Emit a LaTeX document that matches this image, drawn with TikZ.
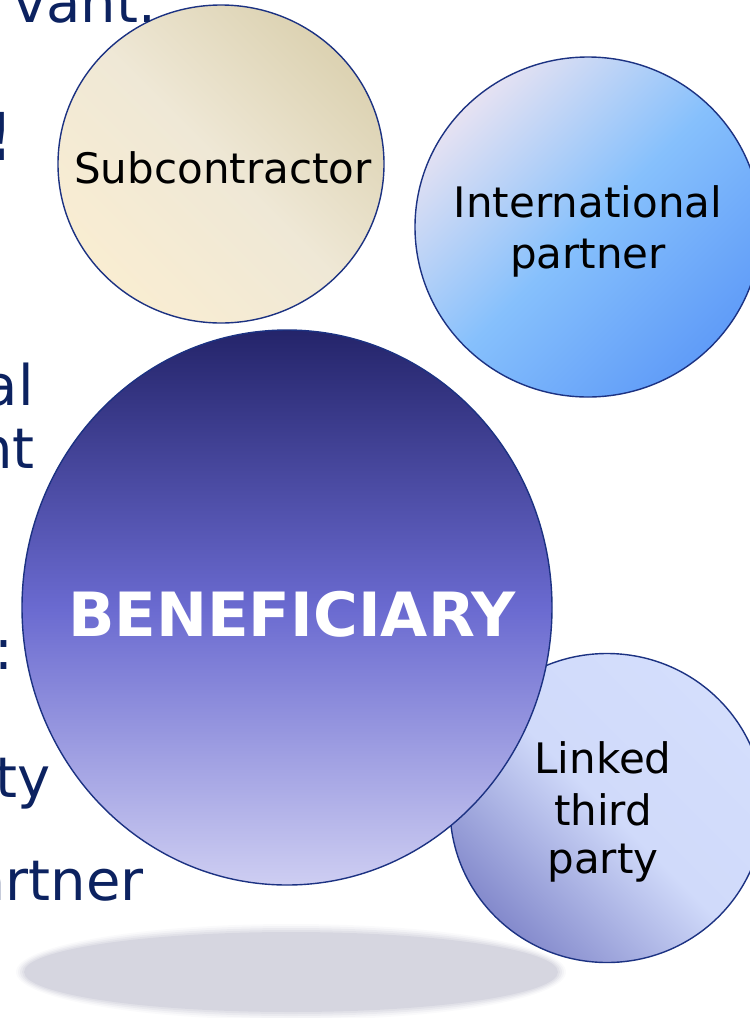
\documentclass[tikz,border=0pt]{standalone}
\usepackage{fontspec}
\setmainfont{DejaVu Sans}
\usetikzlibrary{shapes.geometric}
\definecolor{navytext}{RGB}{12,34,96}
\definecolor{rim}{RGB}{28,50,130}
\definecolor{shadowc}{RGB}{214,214,224}
\definecolor{subA}{RGB}{220,210,178}
\definecolor{subM}{RGB}{239,232,214}
\definecolor{subB}{RGB}{249,237,210}
\definecolor{intA}{RGB}{230,226,242}
\definecolor{intM}{RGB}{134,192,252}
\definecolor{intB}{RGB}{96,156,248}
\definecolor{benA}{RGB}{36,36,106}
\definecolor{benM}{RGB}{106,106,208}
\definecolor{benB}{RGB}{206,206,242}
\definecolor{linA}{RGB}{212,222,252}
\definecolor{linM}{RGB}{208,218,250}
\definecolor{linB}{RGB}{132,138,204}
\begin{document}
\begin{tikzpicture}[x=1pt,y=-1pt,
  bubble/.style={ellipse, draw=rim, line width=1.4pt, inner sep=0pt, shade},
  intext/.style={inner sep=0pt, anchor=base, font=\fontsize{42}{50}\selectfont, text=black},
  sidetext/.style={inner sep=0pt, anchor=base east, font=\fontsize{56}{64}\selectfont, text=navytext}]
\useasboundingbox (0,0) rectangle (750,1018);
\clip (0,0) rectangle (750,1018);
% soft shadow
\foreach \d/\o in {8/0.12,6/0.2,4/0.3,2/0.45}{
  \fill[shadowc, opacity=\o] (291,972) ellipse [x radius=267+\d, y radius=40+\d];
}
\fill[shadowc] (291,972) ellipse [x radius=267, y radius=40];
% bubbles
\node[bubble, minimum width=326pt, minimum height=318pt,
      top color=subA, bottom color=subB, middle color=subM, shading angle=-45] (sub) at (221,164) {};
\node[bubble, minimum width=346pt, minimum height=340pt,
      top color=intA, bottom color=intB, middle color=intM, shading angle=45] (intl) at (588,227) {};
\node[bubble, minimum width=314pt, minimum height=309pt,
      top color=linA, bottom color=linB, middle color=linM, shading angle=-45] (link) at (607,808) {};
\node[bubble, minimum width=530pt, minimum height=555pt,
      top color=benA, bottom color=benB, middle color=benM, shading angle=0] (ben) at (287,607.5) {};
% bubble texts
\node[intext] (subt) at (223,183) {Subcontractor};
\node[intext] (intt1) at (588,217) {International};
\node[intext] (intt2) at (588,268) {partner};
\node[intext] (lint1) at (603,773) {Linked};
\node[intext] (lint2) at (603,825) {third};
\node[intext] (lint3) at (603,873) {party};
\node[inner sep=0pt, anchor=base, text=white, font=\fontsize{61}{70}\selectfont\bfseries] (bent) at (292,636) {BENEFICIARY};
% cut-off slide text on the left
\node[sidetext] (s1) at (156,22) {vant.};
\node[sidetext, font=\fontsize{66}{70}\selectfont\bfseries] (s2) at (14,160) {!};
\node[sidetext] (s3) at (34,405) {al};
\node[sidetext] (s4) at (35,468) {nt};
\node[sidetext] (s5) at (14,669) {:};
\node[sidetext] (s6) at (51,797) {ty};
\node[sidetext] (s7) at (144,900) {artner};
\end{tikzpicture}
\end{document}
